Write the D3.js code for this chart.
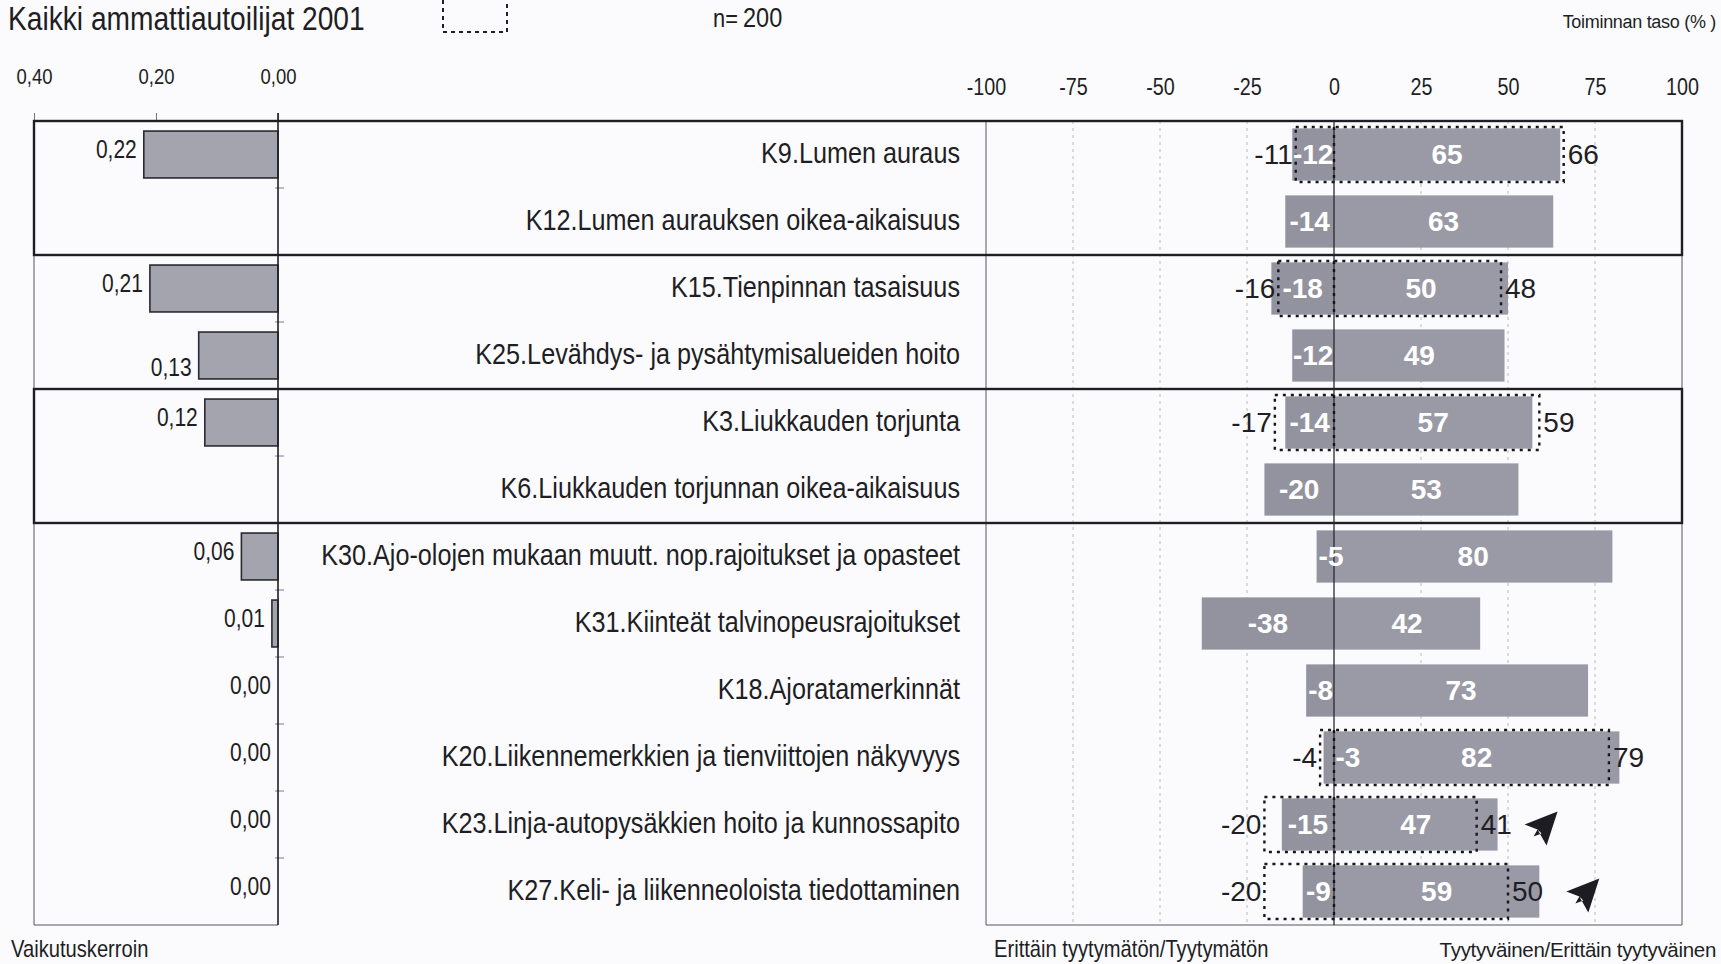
<!DOCTYPE html>
<html>
<head>
<meta charset="utf-8">
<script src="https://cdn.jsdelivr.net/npm/d3@7"></script>
<style>
  html, body { margin: 0; padding: 0; background: #fbfbfd; }
  svg { display: block; font-family: "Liberation Sans", Arial, sans-serif; }
</style>
</head>
<body>
<script>
// ---------------- DATA ----------------
const categories = [
  "K9.Lumen auraus",
  "K12.Lumen aurauksen oikea-aikaisuus",
  "K15.Tienpinnan tasaisuus",
  "K25.Levähdys- ja pysähtymisalueiden hoito",
  "K3.Liukkauden torjunta",
  "K6.Liukkauden torjunnan oikea-aikaisuus",
  "K30.Ajo-olojen mukaan muutt. nop.rajoitukset ja opasteet",
  "K31.Kiinteät talvinopeusrajoitukset",
  "K18.Ajoratamerkinnät",
  "K20.Liikennemerkkien ja tienviittojen näkyvyys",
  "K23.Linja-autopysäkkien hoito ja kunnossapito",
  "K27.Keli- ja liikenneoloista tiedottaminen"
];
const impact = [0.22, null, 0.21, 0.13, 0.12, null, 0.06, 0.01, 0.00, 0.00, 0.00, 0.00];
const dissatisfied = [-12, -14, -18, -12, -14, -20, -5, -38, -8, -3, -15, -9];
const satisfied = [65, 63, 50, 49, 57, 53, 80, 42, 73, 82, 47, 59];
const prevDissatisfied = [-11, null, -16, null, -17, null, null, null, null, -4, -20, -20];
const prevSatisfied = [66, null, 48, null, 59, null, null, null, null, 79, 41, 50];
const trend = [null, null, null, null, null, null, null, null, null, null, "up", "up"];
const boxedGroups = [
  ["K9.Lumen auraus", "K12.Lumen aurauksen oikea-aikaisuus"],
  ["K3.Liukkauden torjunta", "K6.Liukkauden torjunnan oikea-aikaisuus"]
];
const leftTicks = [0.40, 0.20, 0.00];
const rightTicks = [-100, -75, -50, -25, 0, 25, 50, 75, 100];
const gridTicks = [-75, -50, -25, 25, 50, 75];
const titleText = "Kaikki ammattiautoilijat 2001";
const nLabel = "n=";
const nText = "200";
const levelTitle = "Toiminnan taso (% )";
const leftAxisTitle = "Vaikutuskerroin";
const negTitle = "Erittäin tyytymätön/Tyytymätön";
const posTitle = "Tyytyväinen/Erittäin tyytyväinen";

// ---------------- LAYOUT ----------------
const W = 1721, H = 964;
const yTop = 121, yBot = 925;
const xL = d3.scaleLinear().domain([0.40, 0]).range([34, 278]);
const xR = d3.scaleLinear().domain([-100, 100]).range([986, 1682]);
const y = d3.scaleBand().domain(categories).range([yTop, yBot]).padding(0);
const bw = y.bandwidth();
const fmt = v => d3.format(".2f")(v).replace(".", ",");

const svg = d3.select("body").append("svg").attr("width", W).attr("height", H);
svg.append("rect").attr("width", W).attr("height", H).attr("fill", "#fbfbfd");

const ink = "#1e1e24";
const barFill = "#9a9aa7";
const leftFill = "#a4a4af";

// Title & header
svg.append("text").attr("class", "narrow").attr("x", 8).attr("y", 30).attr("font-size", 33.5).attr("fill", ink).text(titleText);
svg.append("rect").attr("x", 443).attr("y", -4).attr("width", 64).attr("height", 36)
  .attr("fill", "none").attr("stroke", ink).attr("stroke-width", 2).attr("stroke-dasharray", "4,4");
svg.append("text").attr("class", "narrow").attr("x", 713).attr("y", 27).attr("font-size", 26).attr("fill", ink).text(nLabel);
svg.append("text").attr("class", "narrow").attr("x", 743).attr("y", 27).attr("font-size", 28).attr("fill", ink).text(nText);
svg.append("text").attr("x", 1716).attr("y", 28).attr("text-anchor", "end").attr("font-size", 18)
  .attr("letter-spacing", -0.3).attr("fill", ink).text(levelTitle);

// Right gridlines
svg.append("g").selectAll("line").data(gridTicks).join("line")
  .attr("x1", d => xR(d)).attr("x2", d => xR(d)).attr("y1", yTop).attr("y2", yBot)
  .attr("stroke", "#b8b8c0").attr("stroke-width", 1).attr("stroke-dasharray", "3,4");

// Left axis (top)
const gL = svg.append("g").attr("transform", `translate(0,${yTop})`)
  .call(d3.axisTop(xL).tickValues(leftTicks).tickFormat(fmt).tickSize(8).tickPadding(29));
gL.select(".domain").remove();
gL.selectAll("line").attr("stroke", "#777").attr("stroke-width", 1);
gL.selectAll("text").attr("class", "narrow").attr("font-size", 22).attr("fill", ink).attr("font-family", null);

// Right axis labels (top)
const gR = svg.append("g").attr("transform", `translate(0,${yTop})`)
  .call(d3.axisTop(xR).tickValues(rightTicks).tickFormat(d3.format("d")).tickSize(0).tickPadding(26));
gR.select(".domain").remove();
gR.selectAll("text").attr("class", "narrow").attr("font-size", 23.5).attr("fill", ink).attr("font-family", null)
  .text(d => d < 0 ? "-" + Math.abs(d) : d);

// Frame lines
const frame = svg.append("g");
const thin = { stroke: "#55555c", w: 1 };
const thick = { stroke: ink, w: 2.4 };
function hline(y0, x1, x2, s) {
  frame.append("line").attr("x1", x1).attr("x2", x2).attr("y1", y0).attr("y2", y0)
    .attr("stroke", s.stroke).attr("stroke-width", s.w);
}
function vline(x0, y1, y2, s) {
  frame.append("line").attr("x1", x0).attr("x2", x0).attr("y1", y1).attr("y2", y2)
    .attr("stroke", s.stroke).attr("stroke-width", s.w);
}
vline(xL(0.40), yTop, yBot, thin);
vline(xR(100), yTop, yBot, thin);
vline(xR(-100), yTop, yBot, thin);
hline(yBot, xL(0.40), xL(0), thin);
hline(yBot, xR(-100), xR(100), thin);
boxedGroups.forEach(g => {
  const y1 = y(g[0]), y2 = y(g[g.length - 1]) + bw;
  frame.append("rect").attr("x", xL(0.40)).attr("y", y1).attr("width", xR(100) - xL(0.40)).attr("height", y2 - y1)
    .attr("fill", "none").attr("stroke", thick.stroke).attr("stroke-width", thick.w);
});
vline(xL(0), yTop - 8, yBot, { stroke: ink, w: 1.6 });
svg.append("g").selectAll("line").data(d3.range(1, categories.length)).join("line")
  .attr("x1", xL(0) - 3).attr("x2", xL(0) + 6)
  .attr("y1", i => yTop + i * bw).attr("y2", i => yTop + i * bw)
  .attr("stroke", "#7a7a90").attr("stroke-width", 1);

// Left bars
const leftH = bw * 0.70;
const rows = categories.map((c, i) => ({
  c, i, imp: impact[i], neg: dissatisfied[i], pos: satisfied[i],
  pneg: prevDissatisfied[i], ppos: prevSatisfied[i], trend: trend[i]
}));
const leftRows = rows.filter(d => d.imp !== null);
svg.append("g").selectAll("rect").data(leftRows).join("rect")
  .attr("x", d => xL(d.imp)).attr("y", d => y(d.c) + (bw - leftH) / 2)
  .attr("width", d => xL(0) - xL(d.imp)).attr("height", leftH)
  .attr("fill", leftFill).attr("stroke", "#2a2a30").attr("stroke-width", 1.6);
svg.append("g").selectAll("text").data(leftRows).join("text").attr("class", "narrow")
  .attr("x", d => xL(d.imp) - 7)
  .attr("y", d => y(d.c) + bw / 2 + (d.c.startsWith("K25") ? 14 : -3))
  .attr("text-anchor", "end").attr("dominant-baseline", "middle")
  .attr("font-size", 25).attr("fill", ink).text(d => fmt(d.imp));

// Category labels
svg.append("g").selectAll("text").data(rows).join("text").attr("class", "narrow")
  .attr("x", 960).attr("y", d => y(d.c) + bw / 2 + 1)
  .attr("text-anchor", "end").attr("dominant-baseline", "middle")
  .attr("font-size", 30).attr("fill", ink).text(d => d.c);

// Right bars
const barH = bw * 0.78;
const gb = svg.append("g");
gb.selectAll("rect.neg").data(rows).join("rect").attr("class", "neg")
  .attr("x", d => xR(d.neg)).attr("y", d => y(d.c) + (bw - barH) / 2)
  .attr("width", d => xR(0) - xR(d.neg)).attr("height", barH).attr("fill", "#93939f");
gb.selectAll("rect.pos").data(rows).join("rect").attr("class", "pos")
  .attr("x", xR(0)).attr("y", d => y(d.c) + (bw - barH) / 2)
  .attr("width", d => xR(d.pos) - xR(0)).attr("height", barH).attr("fill", barFill);

vline(xR(0), yTop, yBot, { stroke: "#2a2a30", w: 1.3 });
svg.node().appendChild(frame.node());

// Previous-year dashed boxes
const prevRows = rows.filter(d => d.ppos !== null);
const boxH = bw * 0.82;
const gp = svg.append("g");
gp.selectAll("rect").data(prevRows).join("rect")
  .attr("x", d => xR(d.pneg)).attr("y", d => y(d.c) + (bw - boxH) / 2)
  .attr("width", d => xR(d.ppos) - xR(d.pneg)).attr("height", boxH)
  .attr("fill", "none").attr("stroke", "#15151a").attr("stroke-width", 2.4).attr("stroke-dasharray", "3,5");
gp.selectAll("line").data(prevRows).join("line")
  .attr("x1", xR(0)).attr("x2", xR(0))
  .attr("y1", d => y(d.c) + (bw - boxH) / 2).attr("y2", d => y(d.c) + (bw + boxH) / 2)
  .attr("stroke", "#15151a").attr("stroke-width", 2.4).attr("stroke-dasharray", "3,5");
gp.selectAll("text.pn").data(prevRows).join("text").attr("class", "pn")
  .attr("x", d => xR(d.pneg) - 3).attr("y", d => y(d.c) + bw / 2 + 2)
  .attr("text-anchor", "end").attr("dominant-baseline", "middle")
  .attr("font-size", 28).attr("fill", ink).text(d => d.pneg);
gp.selectAll("text.pp").data(prevRows).join("text").attr("class", "pp")
  .attr("x", d => xR(d.ppos) + 4).attr("y", d => y(d.c) + bw / 2 + 2)
  .attr("text-anchor", "start").attr("dominant-baseline", "middle")
  .attr("font-size", 28).attr("fill", ink).text(d => d.ppos);

// Value labels inside bars
const gv = svg.append("g").attr("fill", "#ffffff").attr("font-size", 28).attr("font-weight", "bold");
gv.selectAll("text.vn").data(rows).join("text").attr("class", "vn")
  .each(function (d) {
    const seg = xR(0) - xR(d.neg);
    const narrow = seg < 30;
    d3.select(this)
      .attr("x", narrow ? xR(d.neg) + (seg < 15 ? 12 : 2) : (xR(d.neg) + xR(0)) / 2)
      .attr("text-anchor", narrow ? "start" : "middle");
  })
  .attr("y", d => y(d.c) + bw / 2 + 2).attr("dominant-baseline", "middle")
  .text(d => d.neg);
gv.selectAll("text.vp").data(rows).join("text").attr("class", "vp")
  .attr("x", d => (xR(0) + xR(d.pos)) / 2).attr("y", d => y(d.c) + bw / 2 + 2)
  .attr("text-anchor", "middle").attr("dominant-baseline", "middle")
  .text(d => d.pos);

// Trend arrows
const arrowRows = rows.filter(d => d.trend === "up");
svg.append("g").selectAll("path").data(arrowRows).join("path")
  .attr("transform", d => `translate(${xR(Math.max(d.pos, d.ppos || 0))},${y(d.c) + bw / 2})`)
  .attr("d", "M60,-13 L27,0 L40,5 L49,21 Z M40,5 L44,9 L36,12 Z")
  .attr("fill", "#1c1c22");

// Bottom titles
svg.append("text").attr("class", "narrow").attr("x", 11).attr("y", 957).attr("font-size", 24).attr("fill", ink).text(leftAxisTitle);
svg.append("text").attr("class", "narrow").attr("x", 994).attr("y", 957).attr("font-size", 24).attr("fill", ink).text(negTitle);
svg.append("text").attr("x", 1716).attr("y", 957).attr("text-anchor", "end").attr("font-size", 20.5)
  .attr("letter-spacing", -0.3).attr("fill", ink).text(posTitle);

// Narrow (condensed) rendering of text, like Arial Narrow; re-anchored at start
const K = 0.84;
svg.selectAll("text.narrow").each(function () {
  const len = this.getComputedTextLength();
  const nl = len * K;
  const anchor = getComputedStyle(this).textAnchor;
  const x0 = +(this.getAttribute("x") || 0);
  let xs = x0;
  if (anchor === "end") xs = x0 - nl;
  else if (anchor === "middle") xs = x0 - nl / 2;
  d3.select(this).attr("x", xs).attr("text-anchor", "start")
    .attr("textLength", nl).attr("lengthAdjust", "spacingAndGlyphs");
});
</script>
</body>
</html>
